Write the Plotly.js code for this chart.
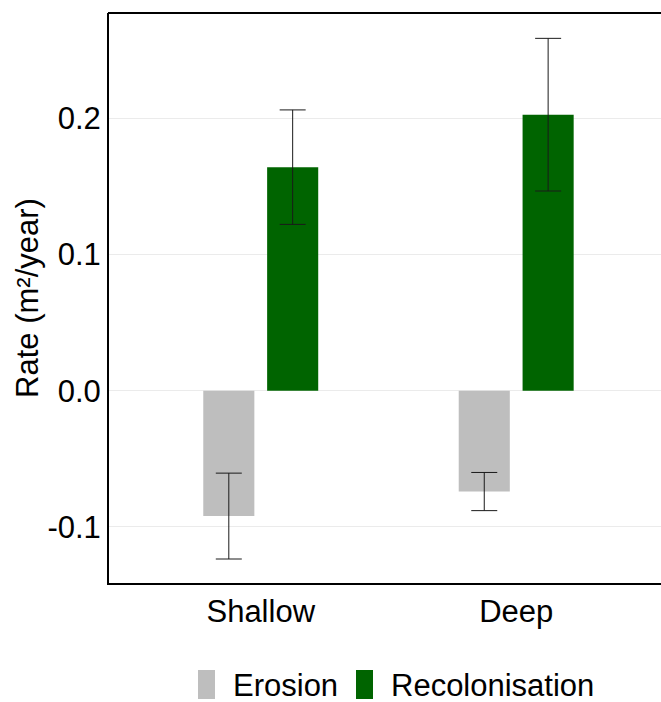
<!DOCTYPE html>
<html>
<head>
<meta charset="utf-8">
<script src="https://cdn.plot.ly/plotly-3.0.1.min.js"></script>
<style>html,body{margin:0;padding:0;background:#fff;overflow:hidden;width:661px;height:702px;}#chart{width:671px;height:702px;}</style>
</head>
<body>
<div id="chart"></div>
<script>
const categories = ['Shallow', 'Deep'];
const seriesNames = ['Erosion', 'Recolonisation'];
const erosionRate = [-0.092, -0.074];
const erosionErr = [0.0315, 0.014];
const recolRate = [0.164, 0.2025];
const recolErr = [0.042, 0.056];
const yTickVals = [-0.1, 0.0, 0.1, 0.2];
const yTickText = ['-0.1', '0.0', '0.1', '0.2'];

const FONT = 'Liberation Sans, Arial, sans-serif';
const COLORS = ['#bebebe', '#006400'];
const errStyle = {type: 'data', visible: true, color: '#1a1a1a', thickness: 1, width: 13};

const traces = [
  {
    type: 'bar', name: seriesNames[0], x: categories, y: erosionRate,
    width: 0.2, offset: -0.225,
    marker: {color: COLORS[0], line: {width: 0}},
    error_y: Object.assign({array: erosionErr}, errStyle)
  },
  {
    type: 'bar', name: seriesNames[1], x: categories, y: recolRate,
    width: 0.2, offset: 0.025,
    marker: {color: COLORS[1], line: {width: 0}},
    error_y: Object.assign({array: recolErr}, errStyle)
  }
];

// full figure is 671 px wide; the 661 px window crops its right edge, as in the reference
const FIG_W = 671, FIG_H = 702;
const PL = 109, PW = FIG_W - 109, PT = 13, PH = 570;
const px = v => (v - PL) / PW;
const py = v => (PT + PH - v) / PH;

// legend drawn below the plot (tall keys as in the reference)
const legendKeys = [
  {x0: 198, x1: 215, textX: 231},
  {x0: 356, x1: 373, textX: 389}
];
const shapes = [
  {type: 'line', xref: 'paper', yref: 'paper', x0: px(108), x1: 1, y0: 1, y1: 1,
   line: {color: '#000000', width: 2}}
];
const annotations = [];
legendKeys.forEach((k, i) => {
  shapes.push({type: 'rect', xref: 'paper', yref: 'paper',
    x0: px(k.x0), x1: px(k.x1), y0: py(699), y1: py(670),
    fillcolor: COLORS[i], line: {width: 0}});
  annotations.push({xref: 'paper', yref: 'paper', x: px(k.textX), y: py(685),
    xanchor: 'left', yanchor: 'middle', showarrow: false, text: seriesNames[i],
    font: {family: FONT, size: 31, color: '#000000'}});
});

const layout = {
  width: FIG_W, height: FIG_H,
  margin: {l: 109, r: 0, t: 13, b: 119, pad: 0},
  paper_bgcolor: '#ffffff', plot_bgcolor: '#ffffff',
  font: {family: FONT, color: '#000000', size: 31},
  barmode: 'overlay',
  showlegend: false,
  shapes: shapes,
  annotations: annotations,
  xaxis: {
    type: 'category', range: [-0.594, 1.606], fixedrange: true,
    showline: true, linecolor: '#000000', linewidth: 2, mirror: false,
    showgrid: false, zeroline: false, ticks: '',
    tickfont: {family: FONT, size: 31, color: '#000000'}
  },
  yaxis: {
    range: [-0.1411, 0.2771], fixedrange: true,
    showline: true, linecolor: '#000000', linewidth: 2, mirror: false,
    showgrid: true, gridcolor: '#ebebeb', gridwidth: 1,
    zeroline: false, ticks: '',
    tickvals: yTickVals, ticktext: yTickText,
    tickfont: {family: FONT, size: 31, color: '#000000'},
    title: {text: 'Rate (m²/year)', font: {family: FONT, size: 31, color: '#000000'}, standoff: 0}
  }
};

Plotly.newPlot('chart', traces, layout, {displayModeBar: false, staticPlot: true});
</script>
</body>
</html>
